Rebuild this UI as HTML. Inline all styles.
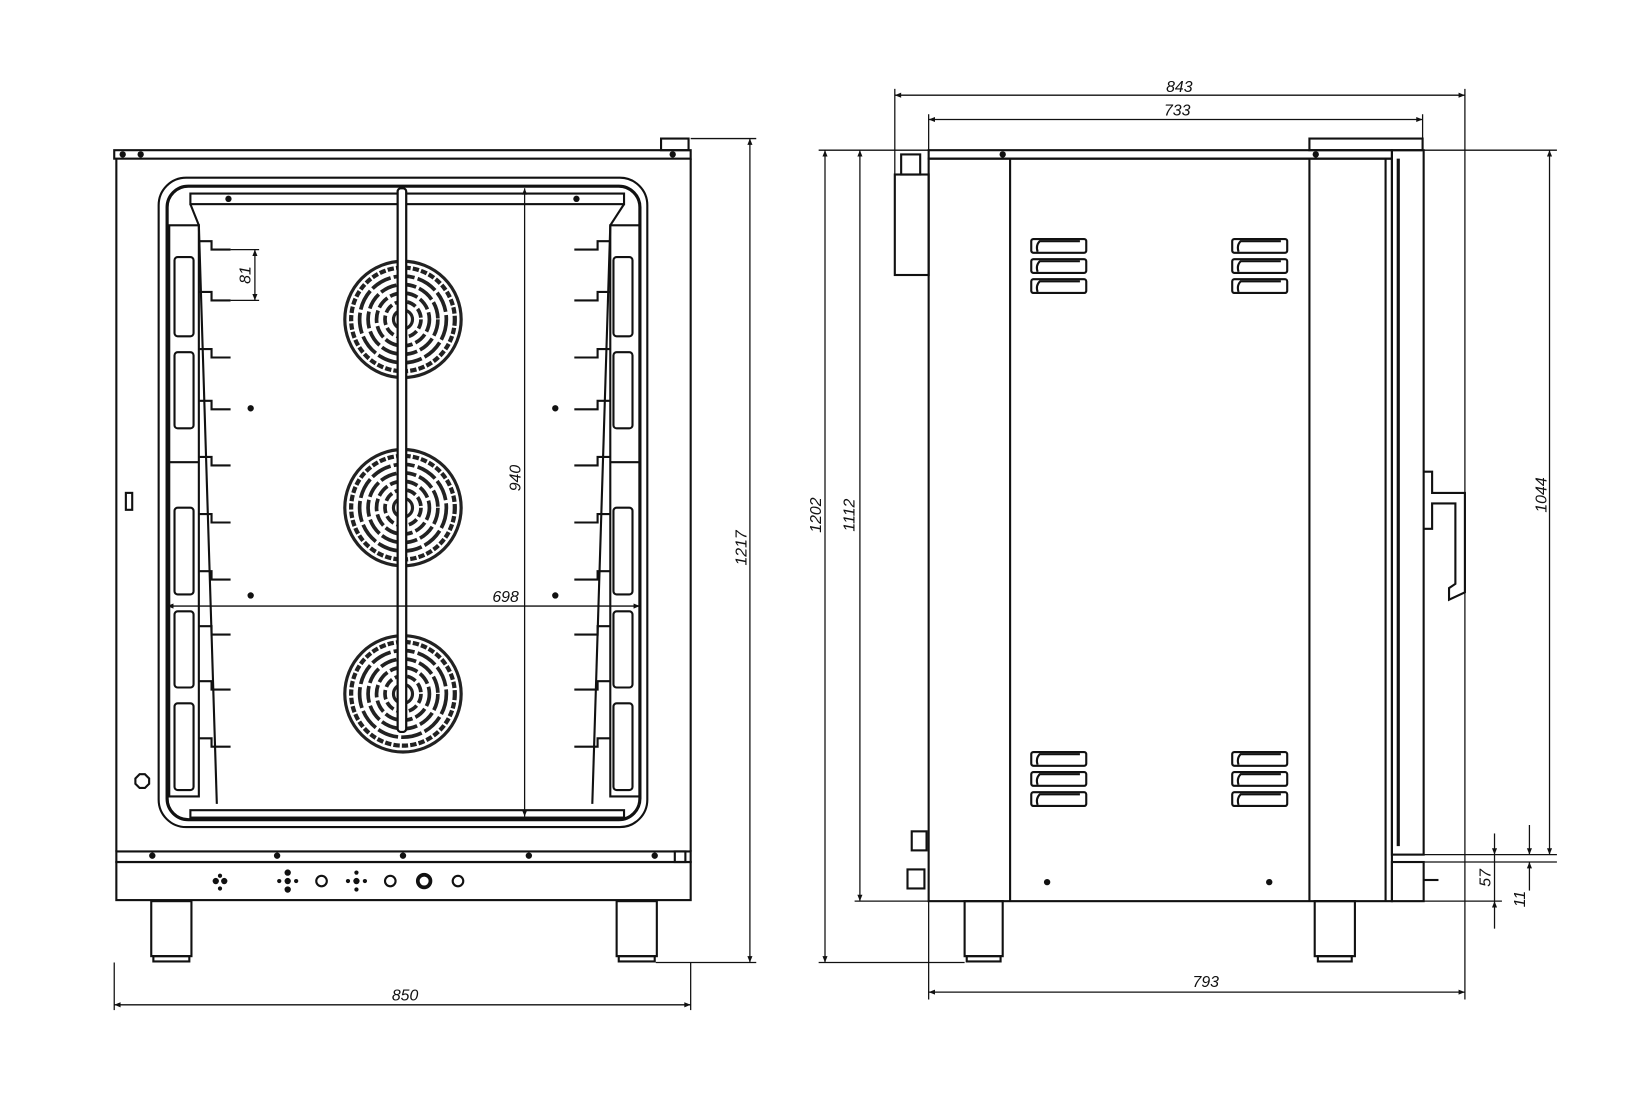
<!DOCTYPE html>
<html><head><meta charset="utf-8"><style>
html,body{margin:0;padding:0;background:#fff;}
svg{display:block;}
text{font-family:"Liberation Sans",sans-serif;font-style:italic;font-size:15px;fill:#111;}
</style></head><body>
<svg width="1650" height="1100" viewBox="0 0 1560 1040" preserveAspectRatio="none" xmlns="http://www.w3.org/2000/svg">
<defs>
<marker id="a" viewBox="0 0 10 10" refX="10" refY="5" markerWidth="10" markerHeight="6" orient="auto-start-reverse" markerUnits="userSpaceOnUse"><path d="M0,1 L10,5 L0,9 z" fill="#111"/></marker>
<g id="fan" fill="none" stroke="#222">
<circle r="55" stroke-width="3"/>
<circle r="49" stroke-width="4" stroke-dasharray="6 2"/>
<circle r="41" stroke-width="3.5" stroke-dasharray="20 3"/>
<circle r="33" stroke-width="3.5" stroke-dasharray="16 3"/>
<circle r="25" stroke-width="3.5" stroke-dasharray="12 3"/>
<circle r="17" stroke-width="3.5" stroke-dasharray="9 3"/>
<circle r="9" stroke-width="3"/>
</g>
<g id="vent" fill="none" stroke="#111" stroke-width="2">
<rect x="0" y="0" width="52" height="13" rx="2"/><path d="M6,12 Q4,6 8,2 H46"/>
<rect x="0" y="19" width="52" height="13" rx="2"/><path d="M6,31 Q4,25 8,21 H46"/>
<rect x="0" y="38" width="52" height="13" rx="2"/><path d="M6,50 Q4,44 8,40 H46"/>
</g>
</defs>
<g fill="none" stroke="#111" stroke-width="2">
<!-- LEFT VIEW -->
<rect x="108" y="142" width="545" height="8"/>
<rect x="625" y="131" width="26" height="11"/>
<line x1="110" y1="150" x2="110" y2="805"/><line x1="653" y1="150" x2="653" y2="805"/>
<rect x="150" y="168" width="462" height="614" rx="26"/>
<rect x="158" y="176" width="447" height="599" rx="20" stroke-width="3"/>
<rect x="180" y="183" width="410" height="10"/>
<rect x="180" y="766" width="410" height="7"/>
<rect x="160" y="213" width="28" height="540"/>
<rect x="577" y="213" width="28" height="540"/>
<line x1="180" y1="193" x2="188" y2="213"/><line x1="590" y1="193" x2="577" y2="213"/>
<line x1="188" y1="213" x2="205" y2="760"/><line x1="577" y1="213" x2="560" y2="760"/>
<line x1="160" y1="437" x2="188" y2="437"/><line x1="577" y1="437" x2="605" y2="437"/>
<rect x="165" y="243" width="18" height="75" rx="3"/><rect x="165" y="333" width="18" height="72" rx="3"/>
<rect x="165" y="480" width="18" height="82" rx="3"/><rect x="165" y="578" width="18" height="72" rx="3"/>
<rect x="165" y="665" width="18" height="82" rx="3"/>
<rect x="580" y="243" width="18" height="75" rx="3"/><rect x="580" y="333" width="18" height="72" rx="3"/>
<rect x="580" y="480" width="18" height="82" rx="3"/><rect x="580" y="578" width="18" height="72" rx="3"/>
<rect x="580" y="665" width="18" height="82" rx="3"/>
<path d="M188,228 H200 V236 H218 M188,276 H200 V284 H218 M188,330 H200 V338 H218 M188,379 H200 V387 H218 M188,432 H200 V440 H218 M188,486 H200 V494 H218 M188,540 H200 V548 H218 M188,592 H200 V600 H218 M188,644 H200 V652 H218 M188,698 H200 V706 H218"/>
<path d="M577,228 H565 V236 H543 M577,276 H565 V284 H543 M577,330 H565 V338 H543 M577,379 H565 V387 H543 M577,432 H565 V440 H543 M577,486 H565 V494 H543 M577,540 H565 V548 H543 M577,592 H565 V600 H543 M577,644 H565 V652 H543 M577,698 H565 V706 H543"/>
<rect x="376" y="178" width="8" height="514" rx="3"/>
<rect x="110" y="805" width="543" height="10"/>
<rect x="110" y="815" width="543" height="36"/>
<rect x="143" y="852" width="38" height="52"/><rect x="145" y="904" width="34" height="5"/>
<rect x="583" y="852" width="38" height="52"/><rect x="585" y="904" width="34" height="5"/>
<circle cx="304" cy="833" r="5"/><circle cx="369" cy="833" r="5"/><circle cx="401" cy="833" r="6" stroke-width="3.5"/><circle cx="433" cy="833" r="5"/>
<rect x="119" y="466" width="6" height="16"/>
<path d="M128,736 l4,-4 h5 l4,4 v5 l-4,4 h-5 l-4,-4z"/>
<rect x="638" y="805" width="10" height="10"/>
</g>
<g fill="#111">
<circle cx="116" cy="146" r="3"/><circle cx="133" cy="146" r="3"/><circle cx="636" cy="146" r="3"/>
<circle cx="216" cy="188" r="3"/><circle cx="545" cy="188" r="3"/>
<circle cx="237" cy="386" r="3"/><circle cx="525" cy="386" r="3"/><circle cx="237" cy="563" r="3"/><circle cx="525" cy="563" r="3"/>
<circle cx="144" cy="809" r="3"/><circle cx="262" cy="809" r="3"/><circle cx="381" cy="809" r="3"/><circle cx="500" cy="809" r="3"/><circle cx="619" cy="809" r="3"/>
<circle cx="204" cy="833" r="3"/><circle cx="212" cy="833" r="3"/><circle cx="208" cy="828" r="2"/><circle cx="208" cy="840" r="2"/>
<circle cx="272" cy="833" r="3"/><circle cx="272" cy="825" r="3"/><circle cx="272" cy="841" r="3"/><circle cx="264" cy="833" r="2"/><circle cx="280" cy="833" r="2"/>
<circle cx="337" cy="833" r="3"/><circle cx="337" cy="841" r="2"/><circle cx="337" cy="825" r="2"/><circle cx="329" cy="833" r="2"/><circle cx="345" cy="833" r="2"/>
</g>
<use href="#fan" x="381" y="302"/><use href="#fan" x="381" y="480"/><use href="#fan" x="381" y="656"/>
<rect x="376" y="178" width="8" height="514" rx="3" fill="#fff" stroke="#111" stroke-width="2"/>

<!-- RIGHT VIEW -->
<g fill="none" stroke="#111" stroke-width="2">
<rect x="878" y="142" width="438" height="8"/>
<rect x="1238" y="131" width="107" height="11"/>
<rect x="878" y="150" width="438" height="702"/>
<line x1="955" y1="150" x2="955" y2="852"/><line x1="1238" y1="150" x2="1238" y2="852"/>
<line x1="1310" y1="150" x2="1310" y2="852"/>
<rect x="846" y="165" width="32" height="95"/><rect x="852" y="146" width="18" height="19"/>
<rect x="1316" y="142" width="30" height="666"/>
<line x1="1322" y1="150" x2="1322" y2="800" stroke-width="3"/>
<rect x="1316" y="815" width="30" height="37"/>
<path d="M1346,446 H1354 V466 H1385 V560 L1370,567 V556 L1376,552 V476 H1354 V500 H1346"/>
<rect x="862" y="786" width="14" height="18"/><rect x="858" y="822" width="16" height="18"/>
<rect x="912" y="852" width="36" height="52"/><rect x="914" y="904" width="32" height="5"/>
<rect x="1243" y="852" width="38" height="52"/><rect x="1246" y="904" width="32" height="5"/>
<line x1="1346" y1="832" x2="1360" y2="832"/>
</g>
<use href="#vent" x="975" y="226"/><use href="#vent" x="1165" y="226"/>
<use href="#vent" x="975" y="711"/><use href="#vent" x="1165" y="711"/>
<g fill="#111"><circle cx="948" cy="146" r="3"/><circle cx="1244" cy="146" r="3"/><circle cx="990" cy="834" r="3"/><circle cx="1200" cy="834" r="3"/></g>

<!-- DIMENSIONS -->
<g fill="none" stroke="#111" stroke-width="1.2">
<line x1="653" y1="131" x2="715" y2="131"/><line x1="620" y1="910" x2="715" y2="910"/>
<line x1="709" y1="131" x2="709" y2="910" marker-start="url(#a)" marker-end="url(#a)"/>
<line x1="108" y1="910" x2="108" y2="955"/><line x1="653" y1="910" x2="653" y2="955"/>
<line x1="108" y1="950" x2="653" y2="950" marker-start="url(#a)" marker-end="url(#a)"/>
<line x1="496" y1="178" x2="496" y2="772" marker-start="url(#a)" marker-end="url(#a)"/>
<line x1="158" y1="573" x2="605" y2="573" marker-start="url(#a)" marker-end="url(#a)"/>
<line x1="218" y1="236" x2="245" y2="236"/><line x1="218" y1="284" x2="245" y2="284"/>
<line x1="241" y1="236" x2="241" y2="284" marker-start="url(#a)" marker-end="url(#a)"/>
<line x1="846" y1="84" x2="846" y2="165"/><line x1="1385" y1="84" x2="1385" y2="945"/>
<line x1="846" y1="90" x2="1385" y2="90" marker-start="url(#a)" marker-end="url(#a)"/>
<line x1="878" y1="108" x2="878" y2="142"/><line x1="1345" y1="108" x2="1345" y2="131"/>
<line x1="878" y1="113" x2="1345" y2="113" marker-start="url(#a)" marker-end="url(#a)"/>
<line x1="774" y1="142" x2="878" y2="142"/><line x1="1346" y1="142" x2="1472" y2="142"/>
<line x1="780" y1="142" x2="780" y2="910" marker-start="url(#a)" marker-end="url(#a)"/>
<line x1="774" y1="910" x2="912" y2="910"/>
<line x1="813" y1="142" x2="813" y2="852" marker-start="url(#a)" marker-end="url(#a)"/>
<line x1="808" y1="852" x2="878" y2="852"/>
<line x1="1465" y1="142" x2="1465" y2="808" marker-start="url(#a)" marker-end="url(#a)"/>
<line x1="1346" y1="808" x2="1472" y2="808"/><line x1="1346" y1="815" x2="1472" y2="815"/>
<line x1="1346" y1="852" x2="1420" y2="852"/>
<line x1="1413" y1="788" x2="1413" y2="808" marker-end="url(#a)"/><line x1="1413" y1="878" x2="1413" y2="852" marker-end="url(#a)"/>
<line x1="1413" y1="808" x2="1413" y2="852"/>
<line x1="1446" y1="780" x2="1446" y2="808" marker-end="url(#a)"/><line x1="1446" y1="842" x2="1446" y2="815" marker-end="url(#a)"/>
<line x1="878" y1="852" x2="878" y2="945"/>
<line x1="878" y1="938" x2="1385" y2="938" marker-start="url(#a)" marker-end="url(#a)"/>
</g>
<g>
<text x="383" y="946" text-anchor="middle">850</text>
<text x="1115" y="87" text-anchor="middle">843</text>
<text x="1113" y="109" text-anchor="middle">733</text>
<text x="1140" y="933" text-anchor="middle">793</text>
<text x="478" y="569" text-anchor="middle">698</text>
<text transform="translate(706,518) rotate(-90)" text-anchor="middle">1217</text>
<text transform="translate(492,452) rotate(-90)" text-anchor="middle">940</text>
<text transform="translate(237,260) rotate(-90)" text-anchor="middle">81</text>
<text transform="translate(776,487) rotate(-90)" text-anchor="middle">1202</text>
<text transform="translate(808,487) rotate(-90)" text-anchor="middle">1112</text>
<text transform="translate(1462,468) rotate(-90)" text-anchor="middle">1044</text>
<text transform="translate(1409,830) rotate(-90)" text-anchor="middle">57</text>
<text transform="translate(1442,850) rotate(-90)" text-anchor="middle">11</text>
</g>
</svg>
</body></html>
